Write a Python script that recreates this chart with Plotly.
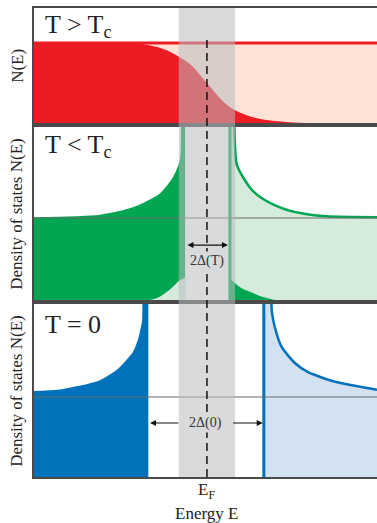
import plotly.graph_objects as go

# ---------------------------------------------------------------
# values (energy in units of Delta(0), E_F = 0)
# ---------------------------------------------------------------
e_range = [-3.01, 2.96]
band_E = [-0.49, 0.49]          # grey strip around E_F
normal_level = 1.0

# T > Tc : Fermi occupation
fermi_E = [-3.01, -1.17, -0.70, -0.47, -0.30, 0.0, 0.28, 0.49, 0.87, 1.44, 2.02, 2.96]
fermi_f = [1.0, 0.99, 0.91, 0.82, 0.74, 0.50, 0.27, 0.16, 0.06, 0.01, 0.0, 0.0]

# T < Tc : density of states with a reduced gap
gap_T = [-0.38, 0.40]
sc_left_E = [-3.01, -1.86, -1.29, -0.82, -0.59, -0.47, -0.43, -0.38]
sc_left_N = [1.01, 1.04, 1.13, 1.30, 1.50, 1.71, 2.3, 2.3]
sc_right_E = [0.40, 0.45, 0.52, 0.75, 0.92, 1.27, 1.62, 2.09, 2.96]
sc_right_N = [2.3, 2.3, 1.65, 1.37, 1.26, 1.13, 1.06, 1.02, 1.01]
thermal_left_E = [-0.99, -0.82, -0.64, -0.47, -0.38]
thermal_left_N = [0.0, 0.04, 0.13, 0.24, 0.27]
thermal_right_E = [0.40, 0.43, 0.57, 0.75, 0.92, 1.18]
thermal_right_N = [0.25, 0.24, 0.16, 0.10, 0.05, 0.0]

# T = 0 : full gap
gap_0 = [-1.02, 0.99]
t0_left_E = [-3.01, -2.6, -2.16, -1.86, -1.57, -1.29, -1.2, -1.13, -1.10, -1.02]
t0_left_N = [1.075, 1.09, 1.15, 1.21, 1.34, 1.56, 1.72, 1.95, 2.4, 2.4]
t0_right_E = [0.99, 1.09, 1.13, 1.18, 1.30, 1.53, 1.76, 2.23, 2.96]
t0_right_N = [2.4, 2.4, 2.06, 1.875, 1.625, 1.425, 1.31, 1.19, 1.09]

# colours
RED, PEACH = '#ED1C24', '#FDE3D6'
GREEN, LGREEN = '#00A651', '#D5EBDC'
BLUE, LBLUE = '#0072BC', '#D3E2F2'
FRAME = '#4a4a4a'
SERIF = 'Liberation Serif'

y_top = [1.4375, 2.11, 2.1625]

fig = go.Figure()

# ---- panel 1 : normal metal
fig.add_trace(go.Scatter(x=e_range, y=[normal_level] * 2, mode='lines', fill='tozeroy',
                         fillcolor=PEACH, line=dict(color=RED, width=3),
                         xaxis='x', yaxis='y'))
fig.add_trace(go.Scatter(x=fermi_E, y=fermi_f, mode='lines', fill='tozeroy', fillcolor=RED,
                         line=dict(width=0, shape='spline'), xaxis='x', yaxis='y'))

# ---- panel 2 : T < Tc
fig.add_trace(go.Scatter(x=sc_left_E, y=sc_left_N, mode='lines', fill='tozeroy', fillcolor=GREEN,
                         line=dict(width=0, shape='spline', smoothing=0.7),
                         xaxis='x2', yaxis='y2'))
fig.add_trace(go.Scatter(x=thermal_left_E, y=thermal_left_N, mode='lines', fill='tozeroy',
                         fillcolor=LGREEN, line=dict(width=0, shape='spline'),
                         xaxis='x2', yaxis='y2'))
fig.add_trace(go.Scatter(x=sc_right_E, y=sc_right_N, mode='lines', fill='tozeroy', fillcolor=LGREEN,
                         line=dict(color=GREEN, width=2.5, shape='spline', smoothing=0.7),
                         xaxis='x2', yaxis='y2'))
fig.add_trace(go.Scatter(x=thermal_right_E, y=thermal_right_N, mode='lines', fill='tozeroy',
                         fillcolor=GREEN, line=dict(width=0, shape='spline'),
                         xaxis='x2', yaxis='y2'))
fig.add_trace(go.Scatter(x=[gap_T[1]] * 2, y=[0, y_top[1]], mode='lines',
                         line=dict(color=GREEN, width=3), xaxis='x2', yaxis='y2'))
fig.add_trace(go.Scatter(x=e_range, y=[normal_level] * 2, mode='lines',
                         line=dict(color='#6a6a6a', width=1.2), xaxis='x2', yaxis='y2'))

# ---- panel 3 : T = 0
fig.add_trace(go.Scatter(x=t0_left_E, y=t0_left_N, mode='lines', fill='tozeroy', fillcolor=BLUE,
                         line=dict(width=0, shape='spline', smoothing=0.6),
                         xaxis='x3', yaxis='y3'))
fig.add_trace(go.Scatter(x=t0_right_E, y=t0_right_N, mode='lines', fill='tozeroy', fillcolor=LBLUE,
                         line=dict(color=BLUE, width=2.5, shape='spline', smoothing=0.6),
                         xaxis='x3', yaxis='y3'))
fig.add_trace(go.Scatter(x=[gap_0[1]] * 2, y=[0, y_top[2]], mode='lines',
                         line=dict(color=BLUE, width=3), xaxis='x3', yaxis='y3'))
fig.add_trace(go.Scatter(x=e_range, y=[normal_level] * 2, mode='lines',
                         line=dict(color='#6a6a6a', width=1.2), xaxis='x3', yaxis='y3'))

# grey strip and E_F marker
fig.add_shape(type='rect', xref='x', yref='paper', x0=band_E[0], x1=band_E[1], y0=0, y1=1,
              fillcolor='rgba(185,187,191,0.55)', line=dict(width=0), layer='above')
fig.add_shape(type='line', xref='x', yref='paper', x0=0, x1=0, y0=0, y1=0.9403,
              line=dict(color='#111', width=1.5, dash='8px,5px'), layer='above')

axis_x = dict(range=e_range, showticklabels=False, showgrid=False, zeroline=False,
              showline=True, mirror=True, linecolor=FRAME, linewidth=2, ticks='')
axis_y = dict(showticklabels=False, showgrid=False, zeroline=False,
              showline=True, linecolor=FRAME, linewidth=2, ticks='')

fig.update_layout(
    width=377, height=523,
    margin=dict(l=34, r=0, t=8, b=46),
    paper_bgcolor='white', plot_bgcolor='white',
    showlegend=False,
    font=dict(family=SERIF, color='#222'),
    xaxis=dict(axis_x, anchor='y'),
    xaxis2=dict(axis_x, anchor='y2', matches='x'),
    xaxis3=dict(axis_x, anchor='y3', matches='x'),
    yaxis=dict(axis_y, range=[0, y_top[0]], domain=[0.7548, 1.0], anchor='x'),
    yaxis2=dict(axis_y, range=[0, y_top[1]], domain=[0.3774, 0.7463], anchor='x2'),
    yaxis3=dict(axis_y, range=[0, y_top[2]], domain=[0.0, 0.3689], anchor='x3'),
)

# panel labels
for txt, yp in [('T > T<sub>c</sub>', 0.9616), ('T < T<sub>c</sub>', 0.7058), ('T = 0', 0.3262)]:
    fig.add_annotation(text=txt, xref='paper', yref='paper', x=0.026, y=yp,
                       xanchor='left', yanchor='middle', showarrow=False,
                       font=dict(size=26, family=SERIF, color='#222'))

# y titles
for txt, yp in [('N(E)', 0.8763), ('Density of states N(E)', 0.5608),
                ('Density of states N(E)', 0.1834)]:
    fig.add_annotation(text=txt, xref='paper', yref='paper', x=-0.05, y=yp,
                       xanchor='center', yanchor='middle', textangle=-90, showarrow=False,
                       font=dict(size=17, family=SERIF, color='#222'))

# bottom labels
fig.add_annotation(text='E<sub>F</sub>', xref='x3', yref='paper', x=0, y=-0.029,
                   xanchor='center', yanchor='middle',
                   showarrow=False, font=dict(size=17, family=SERIF, color='#222'))
fig.add_annotation(text='Energy E', xref='x3', yref='paper', x=0, y=-0.0768,
                   xanchor='center', yanchor='middle',
                   showarrow=False, font=dict(size=17, family=SERIF, color='#222'))

# gap arrows
fig.add_annotation(x=0.365, y=0.67, ax=-0.365, ay=0.67, xref='x2', yref='y2', axref='x2',
                   ayref='y2', text='', showarrow=True, arrowhead=2, arrowside='end+start',
                   arrowsize=1, arrowwidth=1.2, arrowcolor='#111')
fig.add_annotation(text='2Δ(T)', xref='x2', yref='y2', x=0, y=0.476, showarrow=False,
                   bgcolor='#D9DADC', font=dict(size=14, family=SERIF, color='#333'))

fig.add_annotation(x=gap_0[0] + 0.03, y=0.675, ax=-0.47, ay=0.675, xref='x3', yref='y3',
                   axref='x3', ayref='y3', text='', showarrow=True, arrowhead=2,
                   arrowsize=1, arrowwidth=1.2, arrowcolor='#111')
fig.add_annotation(x=gap_0[1] - 0.02, y=0.675, ax=0.43, ay=0.675, xref='x3', yref='y3',
                   axref='x3', ayref='y3', text='', showarrow=True, arrowhead=2,
                   arrowsize=1, arrowwidth=1.2, arrowcolor='#111')
fig.add_annotation(text='2Δ(0)', xref='x3', yref='y3', x=-0.03, y=0.675, showarrow=False,
                   bgcolor='#D9DADC', font=dict(size=14, family=SERIF, color='#333'))

fig.write_html("out.html", config={'displayModeBar': False},
               post_script="document.body.style.margin='0';")
